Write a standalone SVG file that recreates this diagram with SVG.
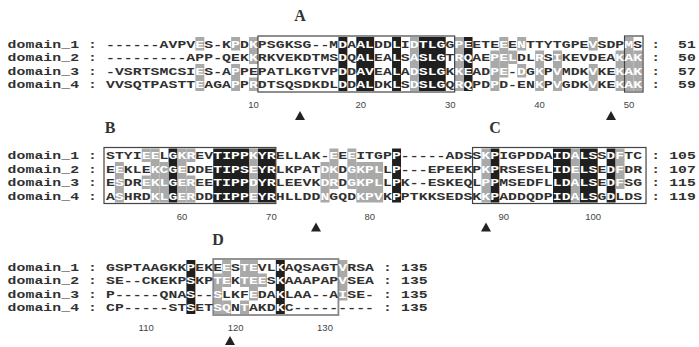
<svg xmlns="http://www.w3.org/2000/svg" width="699" height="347" viewBox="0 0 699 347">
<style>
.s{font-family:"Liberation Mono",monospace;font-size:11.8px;font-weight:bold;fill:#303030;letter-spacing:0.073px}
.w{fill:#fff}
.k{fill:#1f1f1f}
.g{fill:#a9a9a9}
.r{font-family:"Liberation Sans",Arial,sans-serif;font-size:9.5px;fill:#444;text-anchor:middle}
.L{font-family:"Liberation Serif",serif;font-size:16px;font-weight:bold;fill:#333;text-anchor:middle}
.n{text-anchor:end}
.bx{fill:none;stroke:#444;stroke-width:1.2}
.bd{fill:none;stroke:#888;stroke-width:1.8}
.t{fill:#222}
</style>
<rect width="699" height="347" fill="#fff"/>
<g id="block1">
<g id="shade1">
<rect class="k" x="338.42" y="37" width="8.94" height="54"/>
<rect class="k" x="356.30" y="37" width="17.88" height="54"/>
<rect class="k" x="392.06" y="37" width="8.94" height="54"/>
<rect class="k" x="418.89" y="37" width="26.82" height="54"/>
<rect class="k" x="463.59" y="37" width="8.94" height="54"/>
<rect class="g" x="195.36" y="37" width="8.94" height="13.5"/>
<rect class="g" x="195.36" y="64" width="8.94" height="27"/>
<rect class="g" x="231.13" y="37" width="8.94" height="13.5"/>
<rect class="g" x="231.13" y="64" width="8.94" height="27"/>
<rect class="g" x="249.01" y="37" width="8.94" height="27"/>
<rect class="g" x="249.01" y="77.5" width="8.94" height="13.5"/>
<rect class="g" x="409.95" y="37" width="8.94" height="54"/>
<rect class="g" x="454.65" y="37" width="8.94" height="54"/>
<rect class="g" x="490.41" y="50.5" width="8.94" height="40.5"/>
<rect class="g" x="499.36" y="37" width="8.94" height="40.5"/>
<rect class="g" x="508.30" y="50.5" width="8.94" height="13.5"/>
<rect class="g" x="517.24" y="37" width="8.94" height="13.5"/>
<rect class="g" x="517.24" y="64" width="8.94" height="13.5"/>
<rect class="g" x="535.12" y="50.5" width="8.94" height="40.5"/>
<rect class="g" x="553.00" y="50.5" width="8.94" height="40.5"/>
<rect class="g" x="588.77" y="37" width="8.94" height="13.5"/>
<rect class="g" x="588.77" y="64" width="8.94" height="27"/>
<rect class="g" x="615.59" y="50.5" width="8.94" height="40.5"/>
<rect class="g" x="624.53" y="37" width="8.94" height="54"/>
<rect class="g" x="633.47" y="50.5" width="8.94" height="40.5"/>
</g>
<rect class="bx" x="257.95" y="36" width="196.7" height="56"/>
<rect class="bx" x="624.53" y="36" width="18.5" height="56"/>
<text class="L" x="300" y="21">A</text>
<g transform="scale(1.25,1)">
<text class="s" x="6.08" y="47.65">domain_1 :</text>
<text class="s" x="6.08" y="61.15">domain_2 :</text>
<text class="s" x="6.08" y="74.65">domain_3 :</text>
<text class="s" x="6.08" y="88.15">domain_4 :</text>
<text class="s" x="84.76" y="47.65">------AVPV<tspan class="w">E</tspan>S-K<tspan class="w">P</tspan>D<tspan class="w">K</tspan>PSGKSG--M<tspan class="w">D</tspan>A<tspan class="w">AL</tspan>DD<tspan class="w">L</tspan>I<tspan class="w">DTLG</tspan>G<tspan class="w">PE</tspan>ETE<tspan class="w">E</tspan>E<tspan class="w">N</tspan>TTYTGPE<tspan class="w">V</tspan>SDP<tspan class="w">M</tspan>S</text>
<text class="s" x="84.76" y="61.15">---------APP-QEK<tspan class="w">K</tspan>RKVEKDTMS<tspan class="w">D</tspan>Q<tspan class="w">AL</tspan>EA<tspan class="w">L</tspan>S<tspan class="w">ASLG</tspan>T<tspan class="w">RQ</tspan>AE<tspan class="w">PEL</tspan>DL<tspan class="w">R</tspan>S<tspan class="w">I</tspan>KEVDEA<tspan class="w">KAK</tspan></text>
<text class="s" x="84.76" y="74.65">-VSRTSMCSI<tspan class="w">E</tspan>S-A<tspan class="w">P</tspan>PEPATLKGTVP<tspan class="w">D</tspan>D<tspan class="w">AV</tspan>EA<tspan class="w">L</tspan>A<tspan class="w">DSLG</tspan>K<tspan class="w">KE</tspan>AD<tspan class="w">PE</tspan>-<tspan class="w">D</tspan>G<tspan class="w">K</tspan>P<tspan class="w">V</tspan>MDK<tspan class="w">V</tspan>KE<tspan class="w">KAK</tspan></text>
<text class="s" x="84.76" y="88.15">VVSQTPASTT<tspan class="w">E</tspan>AGA<tspan class="w">P</tspan>P<tspan class="w">R</tspan>DTSQSDKDL<tspan class="w">D</tspan>D<tspan class="w">AL</tspan>DK<tspan class="w">L</tspan>S<tspan class="w">DSLG</tspan>Q<tspan class="w">RQ</tspan>PD<tspan class="w">P</tspan>D-EN<tspan class="w">K</tspan>P<tspan class="w">V</tspan>GDK<tspan class="w">V</tspan>KE<tspan class="w">KAK</tspan></text>
<text class="s" x="521.08" y="47.65">:</text>
<text class="s" x="521.08" y="61.15">:</text>
<text class="s" x="521.08" y="74.65">:</text>
<text class="s" x="521.08" y="88.15">:</text>
<text class="s n" x="556.8" y="47.65">51</text>
<text class="s n" x="556.8" y="61.15">50</text>
<text class="s n" x="556.8" y="74.65">57</text>
<text class="s n" x="556.8" y="88.15">59</text>
</g>
<text class="r" x="253.5" y="108">10</text>
<text class="r" x="360.8" y="108">20</text>
<text class="r" x="450.2" y="108">30</text>
<text class="r" x="539.6" y="108">40</text>
<text class="r" x="629" y="108">50</text>
<path class="t" d="M295,120 L305,120 L300,111 Z"/>
<path class="t" d="M606,120 L616,120 L611,111 Z"/>
</g>
<g id="block2">
<g id="shade2">
<rect class="k" x="168.54" y="148.5" width="8.94" height="54"/>
<rect class="k" x="213.24" y="148.5" width="35.76" height="54"/>
<rect class="k" x="257.95" y="148.5" width="17.88" height="54"/>
<rect class="k" x="392.06" y="148.5" width="8.94" height="54"/>
<rect class="k" x="490.41" y="148.5" width="8.94" height="54"/>
<rect class="k" x="553.00" y="148.5" width="17.88" height="54"/>
<rect class="k" x="579.82" y="148.5" width="17.88" height="54"/>
<rect class="k" x="606.65" y="148.5" width="8.94" height="54"/>
<rect class="g" x="114.89" y="162" width="8.94" height="40.5"/>
<rect class="g" x="141.72" y="148.5" width="8.94" height="13.5"/>
<rect class="g" x="141.72" y="175.5" width="8.94" height="13.5"/>
<rect class="g" x="150.66" y="148.5" width="8.94" height="54"/>
<rect class="g" x="159.60" y="162" width="8.94" height="40.5"/>
<rect class="g" x="177.48" y="148.5" width="8.94" height="54"/>
<rect class="g" x="186.42" y="148.5" width="8.94" height="13.5"/>
<rect class="g" x="186.42" y="175.5" width="8.94" height="27"/>
<rect class="g" x="249.01" y="148.5" width="8.94" height="54"/>
<rect class="g" x="320.54" y="162" width="8.94" height="40.5"/>
<rect class="g" x="329.48" y="148.5" width="8.94" height="40.5"/>
<rect class="g" x="347.36" y="148.5" width="8.94" height="40.5"/>
<rect class="g" x="356.30" y="162" width="26.82" height="40.5"/>
<rect class="g" x="481.47" y="148.5" width="8.94" height="54"/>
<rect class="g" x="570.88" y="148.5" width="8.94" height="54"/>
<rect class="g" x="615.59" y="148.5" width="8.94" height="40.5"/>
</g>
<rect class="bx" x="104" y="147.5" width="171.83" height="56"/>
<rect class="bx" x="472.53" y="147.5" width="173.5" height="56"/>
<text class="L" x="110" y="133">B</text>
<text class="L" x="495" y="133">C</text>
<g transform="scale(1.25,1)">
<text class="s" x="6.08" y="159.15">domain_1 :</text>
<text class="s" x="6.08" y="172.65">domain_2 :</text>
<text class="s" x="6.08" y="186.15">domain_3 :</text>
<text class="s" x="6.08" y="199.65">domain_4 :</text>
<text class="s" x="84.76" y="159.15">STYI<tspan class="w">EE</tspan>L<tspan class="w">GKR</tspan>EV<tspan class="w">TIPPKYR</tspan>ELLAK-<tspan class="w">E</tspan>E<tspan class="w">E</tspan>ITGP<tspan class="w">P</tspan>-----ADSS<tspan class="w">KP</tspan>IGPDDA<tspan class="w">IDALS</tspan>S<tspan class="w">DF</tspan>TC</text>
<text class="s" x="84.76" y="172.65">E<tspan class="w">E</tspan>KLE<tspan class="w">KCGE</tspan>DDE<tspan class="w">TIPSEYR</tspan>LKPAT<tspan class="w">DK</tspan>D<tspan class="w">GKPL</tspan>L<tspan class="w">P</tspan>---EPEEKP<tspan class="w">KP</tspan>RSESEL<tspan class="w">IDELS</tspan>E<tspan class="w">DF</tspan>DR</text>
<text class="s" x="84.76" y="186.15">E<tspan class="w">S</tspan>DR<tspan class="w">EKLGER</tspan>EE<tspan class="w">TIPPDYR</tspan>LEEVK<tspan class="w">DR</tspan>D<tspan class="w">GKPL</tspan>L<tspan class="w">P</tspan>K--ESKEQL<tspan class="w">PP</tspan>MSEDFL<tspan class="w">LDALS</tspan>E<tspan class="w">DF</tspan>SG</text>
<text class="s" x="84.76" y="199.65">A<tspan class="w">S</tspan>HRD<tspan class="w">KLGER</tspan>DD<tspan class="w">TIPPEYR</tspan>HLLDD<tspan class="w">N</tspan>GQD<tspan class="w">KPV</tspan>K<tspan class="w">P</tspan>PTKKSEDSK<tspan class="w">KP</tspan>ADDQDP<tspan class="w">IDALS</tspan>G<tspan class="w">D</tspan>LDS</text>
<text class="s" x="521.08" y="159.15">:</text>
<text class="s" x="521.08" y="172.65">:</text>
<text class="s" x="521.08" y="186.15">:</text>
<text class="s" x="521.08" y="199.65">:</text>
<text class="s n" x="556.8" y="159.15">105</text>
<text class="s n" x="556.8" y="172.65">107</text>
<text class="s n" x="556.8" y="186.15">115</text>
<text class="s n" x="556.8" y="199.65">119</text>
</g>
<text class="r" x="182" y="219.5">60</text>
<text class="r" x="271.4" y="219.5">70</text>
<text class="r" x="369.7" y="219.5">80</text>
<text class="r" x="503.8" y="219.5">90</text>
<text class="r" x="593.2" y="219.5">100</text>
<path class="t" d="M311,231.5 L321,231.5 L316,222.5 Z"/>
<path class="t" d="M481,231.5 L491,231.5 L486,222.5 Z"/>
</g>
<g id="block3">
<g id="shade3">
<rect class="k" x="186.42" y="260" width="8.94" height="54"/>
<rect class="k" x="275.83" y="260" width="8.94" height="54"/>
<rect class="g" x="213.24" y="273.5" width="8.94" height="40.5"/>
<rect class="g" x="222.18" y="260" width="8.94" height="27"/>
<rect class="g" x="222.18" y="300.5" width="8.94" height="13.5"/>
<rect class="g" x="240.07" y="260" width="8.94" height="27"/>
<rect class="g" x="240.07" y="300.5" width="8.94" height="13.5"/>
<rect class="g" x="249.01" y="260" width="8.94" height="40.5"/>
<rect class="g" x="257.95" y="273.5" width="8.94" height="13.5"/>
<rect class="g" x="338.42" y="260" width="8.94" height="40.5"/>
</g>
<rect class="bd" x="213.24" y="259" width="125.18" height="56"/>
<text class="L" x="218" y="245">D</text>
<g transform="scale(1.25,1)">
<text class="s" x="6.08" y="270.65">domain_1 :</text>
<text class="s" x="6.08" y="284.15">domain_2 :</text>
<text class="s" x="6.08" y="297.65">domain_3 :</text>
<text class="s" x="6.08" y="311.15">domain_4 :</text>
<text class="s" x="84.76" y="270.65">GSPTAAGKK<tspan class="w">P</tspan>EKE<tspan class="w">E</tspan>S<tspan class="w">TE</tspan>VL<tspan class="w">K</tspan>AQSAGT<tspan class="w">V</tspan>RSA</text>
<text class="s" x="84.76" y="284.15">SE--CKEKP<tspan class="w">S</tspan>KP<tspan class="w">TE</tspan>K<tspan class="w">TEE</tspan>S<tspan class="w">K</tspan>AAAPAP<tspan class="w">V</tspan>SEA</text>
<text class="s" x="84.76" y="297.65">P-----QNA<tspan class="w">S</tspan>--<tspan class="w">S</tspan>LKF<tspan class="w">E</tspan>DA<tspan class="w">K</tspan>LAA--A<tspan class="w">I</tspan>SE-</text>
<text class="s" x="84.76" y="311.15">CP-----ST<tspan class="w">S</tspan>ET<tspan class="w">SQ</tspan>N<tspan class="w">T</tspan>AKD<tspan class="w">K</tspan>C---------</text>
<text class="s" x="306.5" y="270.65">:</text>
<text class="s" x="306.5" y="284.15">:</text>
<text class="s" x="306.5" y="297.65">:</text>
<text class="s" x="306.5" y="311.15">:</text>
<text class="s" x="320.8" y="270.65">135</text>
<text class="s" x="320.8" y="284.15">135</text>
<text class="s" x="320.8" y="297.65">135</text>
<text class="s" x="320.8" y="311.15">135</text>
</g>
<text class="r" x="146.2" y="331">110</text>
<text class="r" x="235.6" y="331">120</text>
<text class="r" x="325" y="331">130</text>
<path class="t" d="M225,345 L235,345 L230,336 Z"/>
</g>
</svg>
